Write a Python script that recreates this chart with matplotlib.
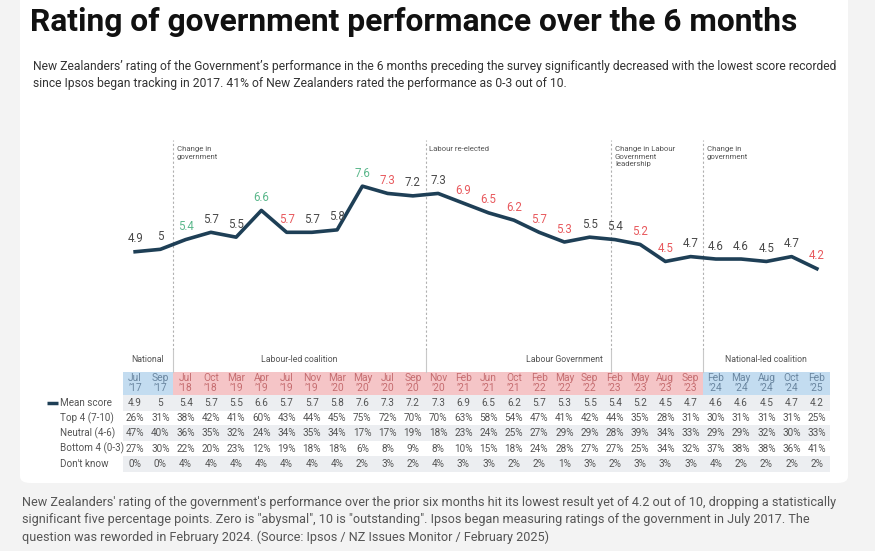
import matplotlib
matplotlib.use('Agg')
import matplotlib.pyplot as plt
import matplotlib.transforms as mtransforms
from matplotlib.patches import FancyBboxPatch, Rectangle

plt.rcParams['font.family'] = ['Roboto', 'DejaVu Sans']

# survey periods (table header)
periods = ["Jul\n\u201917", "Sep\n\u201917", "Jul\n\u201918", "Oct\n\u201918", "Mar\n\u201919",
           "Apr\n\u201919", "Jul\n\u201919", "Nov\n\u201919", "Mar\n\u201920", "May\n\u201920",
           "Jul\n\u201920", "Sep\n\u201920", "Nov\n\u201920", "Feb\n\u201921", "Jun\n\u201921",
           "Oct\n\u201921", "Feb\n\u201922", "May\n\u201922", "Sep\n\u201922", "Feb\n\u201923",
           "May\n\u201923", "Aug\n\u201923", "Sep\n\u201923", "Feb\n\u201924", "May\n\u201924",
           "Aug\n\u201924", "Oct\n\u201924", "Feb\n\u201925"]
mean_score = [4.9, 5, 5.4, 5.7, 5.5, 6.6, 5.7, 5.7, 5.8, 7.6, 7.3, 7.2, 7.3, 6.9,
              6.5, 6.2, 5.7, 5.3, 5.5, 5.4, 5.2, 4.5, 4.7, 4.6, 4.6, 4.5, 4.7, 4.2]
top4 = [26, 31, 38, 42, 41, 60, 43, 44, 45, 75, 72, 70, 70, 63,
        58, 54, 47, 41, 42, 44, 35, 28, 31, 30, 31, 31, 31, 25]
neutral = [47, 40, 36, 35, 32, 24, 34, 35, 34, 17, 17, 19, 18, 23,
           24, 25, 27, 29, 29, 28, 39, 34, 33, 29, 29, 32, 30, 33]
bottom4 = [27, 30, 22, 20, 23, 12, 19, 18, 18, 6, 8, 9, 8, 10,
           15, 18, 24, 28, 27, 27, 25, 34, 32, 37, 38, 38, 36, 41]
dont_know = [0, 0, 4, 4, 4, 4, 4, 4, 4, 2, 3, 2, 4, 3,
             3, 2, 2, 1, 3, 2, 3, 3, 3, 4, 2, 2, 2, 2]
# significant change vs previous wave: 1 up, -1 down, 0 none
change = [0, 0, 1, 0, 0, 1, -1, 0, 0, 1, -1, 0, 0, -1,
          -1, -1, -1, -1, 0, 0, -1, -1, 0, 0, 0, 0, 0, -1]
# government in office: N = National, L = Labour
govt = ['N', 'N'] + ['L'] * 21 + ['N'] * 5
groups = [("National", 0, 1), ("Labour-led coalition", 2, 11),
          ("Labour Government", 12, 22), ("National-led coalition", 23, 27)]
events = [(1.5, "Change in\ngovernment"), (11.5, "Labour re-elected"),
          (18.85, "Change in Labour\nGovernment\nleadership"), (22.5, "Change in\ngovernment")]

W, H = 875, 551
fig = plt.figure(figsize=(W / 100, H / 100), dpi=100)
fig.patch.set_facecolor('#f3f3f3')


def fx(px):
    return px / W


def fy(py):
    return 1 - py / H


card = FancyBboxPatch((fx(20), fy(483)), fx(828), fy(-10) - fy(483),
                      boxstyle="round,pad=0,rounding_size=0.012",
                      transform=fig.transFigure, facecolor='white', edgecolor='none', zorder=-10)
fig.patches.append(card)

fig.text(fx(30), fy(22), "Rating of government performance over the 6 months",
         fontsize=22.9, fontweight='bold', color='#111111', va='center', ha='left')
fig.text(fx(33), fy(75),
         "New Zealanders\u2019 rating of the Government\u2019s performance in the 6 months preceding the survey "
         "significantly decreased with the lowest score recorded\nsince Ipsos began tracking in 2017. "
         "41% of New Zealanders rated the performance as 0-3 out of 10.",
         fontsize=8.7, color='#333333', va='center', ha='left', linespacing=1.4)
fig.text(fx(22), fy(520),
         "New Zealanders' rating of the government's performance over the prior six months hit its lowest result "
         "yet of 4.2 out of 10, dropping a statistically\nsignificant five percentage points. Zero is \"abysmal\", "
         "10 is \"outstanding\". Ipsos began measuring ratings of the government in July 2017. The\nquestion was "
         "reworded in February 2024. (Source: Ipsos / NZ Issues Monitor / February 2025)",
         fontsize=9.1, color='#555555', va='center', ha='left', linespacing=1.4)

n = len(mean_score)
xs = list(range(n))
line_col = '#1e3f56'

# --- line chart ---
ax = fig.add_axes([fx(122.5), fy(350), fx(707), fy(140) - fy(350)])
ax.set_xlim(-0.5, n - 0.5)
ax.set_ylim(0.855, 9.5)
ax.axis('off')
ax.plot(xs, mean_score, color=line_col, lw=2.6, solid_joinstyle='round', zorder=3)
label_cols = {1: '#5cb88c', -1: '#e85a5e', 0: '#4a4a4a'}
for x, v, c in zip(xs, mean_score, change):
    ax.annotate(f"{v:g}", (x, v), xytext=(0, 13), textcoords='offset pixels',
                ha='center', va='center', fontsize=8.3, color=label_cols[c], zorder=4)
for pos, lab in events:
    ax.axvline(pos, color='#b0b0b0', lw=0.8, ls=(0, (2, 2)), zorder=1)
    ax.text(pos + 0.15, 9.25, lab, fontsize=5.6, color='#555555', ha='left', va='top',
            linespacing=1.3)

# --- table ---
tb = fig.add_axes([fx(122.5), fy(472), fx(707), fy(350) - fy(472)])
tb.set_xlim(-0.5, n - 0.5)
tb.set_ylim(472, 350)
tb.axis('off')

for pos, lab in events:
    tb.plot([pos, pos], [350, 372], color='#c8c8c8', lw=0.8)
for lab, a, b in groups:
    tb.text((a + b) / 2, 360, lab, fontsize=6.3, color='#555555', ha='center', va='center')

cell_fill = {'N': '#c3dcf0', 'L': '#f5c5c7'}
cell_text = {'N': '#6a86a0', 'L': '#c56d70'}
for x, p, g in zip(xs, periods, govt):
    tb.add_patch(Rectangle((x - 0.5, 372), 1, 23, facecolor=cell_fill[g], edgecolor='none'))
    tb.text(x, 383.5, p, fontsize=7.4, color=cell_text[g], ha='center', va='center', linespacing=1.0)

rows = [("Mean score", [f"{v:g}" for v in mean_score]),
        ("Top 4 (7-10)", [f"{v}%" for v in top4]),
        ("Neutral (4-6)", [f"{v}%" for v in neutral]),
        ("Bottom 4 (0-3)", [f"{v}%" for v in bottom4]),
        ("Don't know", [f"{v}%" for v in dont_know])]
row_y = [403, 418, 433, 448.5, 464]
row_h = 15.2
shaded = [True, False, True, False, True]
lab_tr = mtransforms.blended_transform_factory(fig.transFigure, tb.transData)
for (name, vals), y, sh in zip(rows, row_y, shaded):
    if sh:
        tb.add_patch(Rectangle((-0.5, y - row_h / 2), n, row_h, facecolor='#eceef1', edgecolor='none'))
    tb.text(fx(60), y, name, transform=lab_tr, fontsize=7.1, color='#555555', ha='left', va='center')
    for x, s in zip(xs, vals):
        tb.text(x, y, s, fontsize=7.2, color='#555555', ha='center', va='center')
tb.plot([fx(47), fx(58)], [row_y[0], row_y[0]], transform=lab_tr, color=line_col, lw=2.5,
        clip_on=False, solid_capstyle='butt')

fig.savefig('out.png', dpi=100, facecolor=fig.get_facecolor())
